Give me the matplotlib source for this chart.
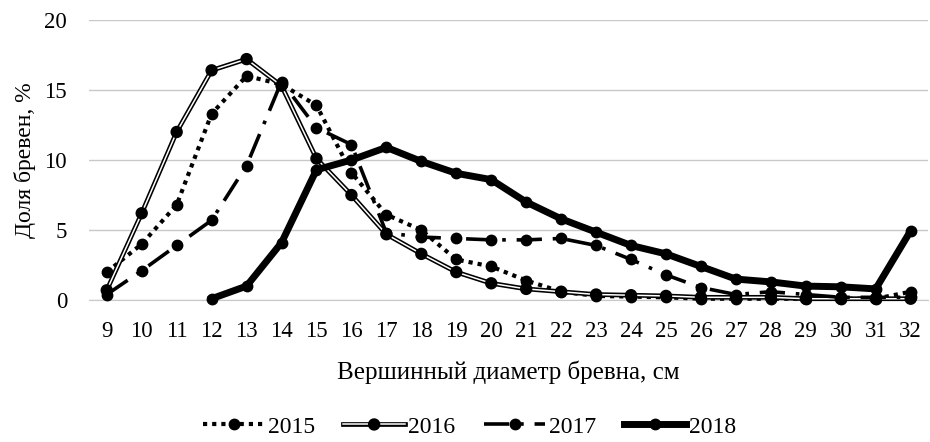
import numpy as np
import matplotlib
matplotlib.use("Agg")
import matplotlib.pyplot as plt
import matplotlib.patheffects as pe

plt.rcParams['font.family'] = ['Liberation Serif', 'DejaVu Serif']

diam = list(range(9, 33))
nan = np.nan
y2015 = [2.0, 4.0, 6.8, 13.3, 16.0, 15.4, 13.9, 9.1, 6.1, 5.0, 2.9, 2.4, 1.4, 0.6, 0.3, 0.25, 0.2, 0.1, 0.1, 0.1, 0.1, 0.1, 0.1, 0.6]
y2016 = [0.7, 6.2, 12.0, 16.4, 17.2, 15.3, 10.1, 7.5, 4.7, 3.3, 2.0, 1.2, 0.8, 0.6, 0.4, 0.35, 0.3, 0.2, 0.2, 0.2, 0.1, 0.1, 0.1, 0.1]
y2017 = [0.4, 2.1, 3.9, 5.7, 9.6, 15.6, 12.3, 11.1, 4.8, 4.5, 4.4, 4.3, 4.3, 4.4, 3.9, 2.9, 1.8, 0.9, 0.4, 0.6, 0.4, 0.2, 0.2, 0.2]
y2018 = [nan, nan, nan, 0.1, 1.0, 4.1, 9.3, 10.0, 10.9, 9.9, 9.05, 8.6, 7.0, 5.8, 4.85, 3.9, 3.3, 2.4, 1.5, 1.3, 1.0, 0.95, 0.8, 4.95]
labels = ['2015', '2016', '2017', '2018']

fig = plt.figure(figsize=(9.3, 4.42), dpi=100)
ax = fig.add_axes([0.096, 0.321, 0.902, 0.634])

x = np.arange(len(diam))
ms = 7.5
l15, = ax.plot(x, y2015, color='black', lw=3, linestyle=(0, (1, 1.2)),
               marker='o', ms=ms, zorder=3)
l16, = ax.plot(x, y2016, color='white', lw=1.1, marker='o', ms=ms - 2,
               markerfacecolor='black', markeredgecolor='black', zorder=4,
               path_effects=[pe.Stroke(linewidth=3.4, foreground='black'), pe.Normal()])
l17, = ax.plot(x, y2017, color='black', lw=2.6, linestyle=(0, (7, 3, 1, 3)),
               marker='o', ms=ms, zorder=5)
l18, = ax.plot(x, y2018, color='black', lw=5, marker='o', ms=ms, zorder=6,
               solid_joinstyle='round')

ax.set_xlim(-0.5, len(diam) - 0.5)
ax.set_ylim(0, 20)
ax.set_yticks([0, 5, 10, 15, 20])
ax.set_xticks(x)
ax.set_xticklabels([str(d) for d in diam])
ax.grid(axis='y', color='#c8c8c8', lw=1)
ax.set_axisbelow(True)
for s in ['top', 'right', 'left']:
    ax.spines[s].set_visible(False)
ax.spines['bottom'].set_color('#c8c8c8')
ax.tick_params(length=0, labelsize=16.5)
ax.tick_params(axis='x', pad=15)
ax.tick_params(axis='y', pad=16)
ax.set_xlabel('Вершинный диаметр бревна, см', fontsize=18, labelpad=13)
ax.set_ylabel('Доля бревен, %', fontsize=17, labelpad=6)
for l in ax.lines:
    l.set_clip_on(False)

fig.legend([l15, l16, l17, l18], labels,
           loc='center', bbox_to_anchor=(0.505, 0.034), ncol=4, frameon=False,
           fontsize=17, handlelength=2.6, handletextpad=0.15, columnspacing=1.2,
           borderpad=0, borderaxespad=0)

fig.savefig('out.png', dpi=100)
